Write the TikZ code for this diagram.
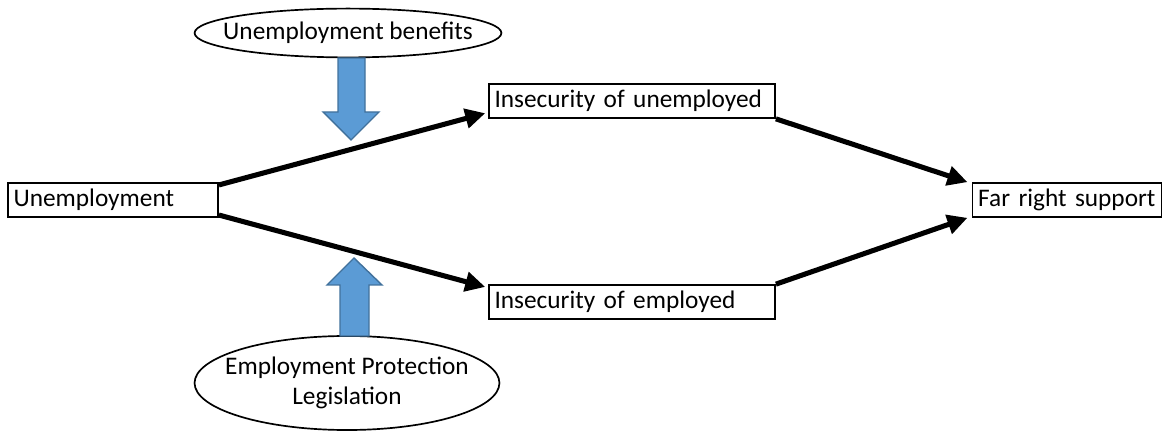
\documentclass[tikz,border=0pt]{standalone}
\usepackage{fontspec}
\setmainfont{Carlito}
\usetikzlibrary{positioning}
\usetikzlibrary{shapes.geometric}
\usetikzlibrary{arrows.meta}
\definecolor{azul}{RGB}{91,155,213}
\definecolor{azulborde}{RGB}{65,113,156}

\begin{document}
\begin{tikzpicture}[x=0.025cm, y=-0.025cm,
    every node/.style={draw, line width=1.2pt, font=\fontsize{18}{21.5}\selectfont},
    caja/.style={rectangle, minimum height=0.85cm, inner xsep=4pt, inner ysep=0pt, align=left},
    elipse/.style={ellipse, inner ysep=0pt, align=center},
    flecha/.style={-{Triangle[length=0.5cm, width=0.48cm]}, line width=3.6pt},
    bloque/.style={fill=azul, draw=azulborde, line width=1pt}]
  \useasboundingbox (0,0) rectangle (1167,432);

  % Nodos
  \node[caja, text width=4.97cm] (u) at (113,200) {Unemployment};
  \node[caja, text width=6.87cm] (iu) at (632,101) {Insecurity of unemployed};
  \node[caja, text width=6.87cm] (ie) at (632,302) {Insecurity of employed};
  \node[caja, text width=4.44cm] (fr) at (1067,200) {Far right support};
  \node[elipse, inner xsep=-0.41cm, minimum width=7.67cm, minimum height=1.22cm] (ub) at (348,33) {Unemployment benefits};
  \node[elipse, inner xsep=-0.36cm, minimum width=7.62cm, minimum height=2.35cm] (epl) at (347,383) {Employment Protection\\Legislation};

  % Flechas azules
  \draw[bloque] (338,58) -- (365,58) -- (365,112) -- (379,112) -- (351,140) -- (323,112) -- (338,112) -- cycle;
  \draw[bloque] (354,258) -- (382,285) -- (369,285) -- (369,336) -- (340,336) -- (340,285) -- (327,285) -- cycle;

  % Aristas
  \draw[flecha] ([yshift=-2pt]u.north east) -- ([xshift=-2pt,yshift=4pt]iu.south west);
  \draw[flecha] ([yshift=2pt]u.south east) -- ([xshift=-2pt,yshift=-2pt]ie.north west);
  \draw[flecha] (iu.south east) -- ([xshift=-3pt]fr.north west);
  \draw[flecha] (ie.north east) -- ([xshift=-3pt]fr.south west);
\end{tikzpicture}
\end{document}
